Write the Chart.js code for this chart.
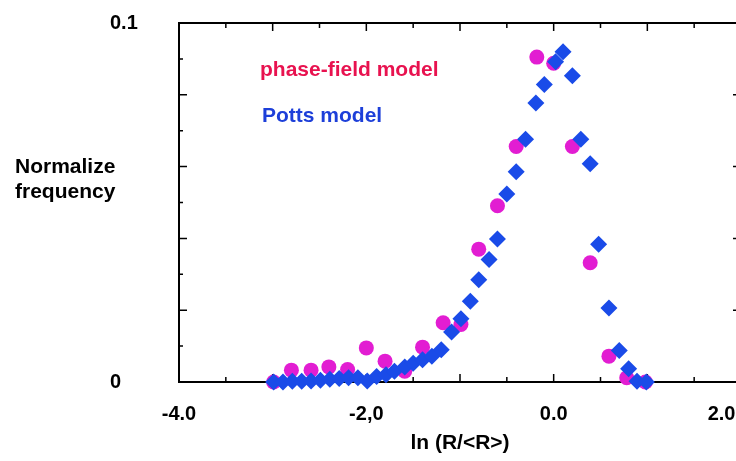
<!DOCTYPE html>
<html>
<head>
<meta charset="utf-8">
<script src="https://cdn.jsdelivr.net/npm/chart.js@4/dist/chart.umd.min.js"></script>
<style>
  html, body { margin: 0; padding: 0; background: #fff; overflow: hidden; width: 736px; height: 461px; }
</style>
</head>
<body>
<!-- the original figure is cut at the right edge, so the canvas runs past the window -->
<canvas id="chart" width="800" height="461"></canvas>
<script>
// values
const phaseX = [-2.99, -2.80, -2.59, -2.40, -2.20, -2.00, -1.80, -1.59, -1.40, -1.18, -0.99,
  -0.80, -0.60, -0.40, -0.18, 0.00, 0.20, 0.39, 0.59, 0.78, 0.98];
const phaseY = [0.0000, 0.0033, 0.0033, 0.0042, 0.0035, 0.0095, 0.0058, 0.0030, 0.0097, 0.0165, 0.0160,
  0.0370, 0.0491, 0.0656, 0.0905, 0.0888, 0.0656, 0.0332, 0.0072, 0.0012, 0.0000];

const pottsX = [-2.99, -2.89, -2.79, -2.69, -2.59, -2.49, -2.39, -2.29, -2.19, -2.09, -1.99,
  -1.89, -1.79, -1.70, -1.59, -1.50, -1.40, -1.30, -1.20, -1.09, -0.99, -0.89, -0.80, -0.69,
  -0.60, -0.50, -0.40, -0.30, -0.19, -0.10, 0.02, 0.10, 0.20, 0.29, 0.39, 0.48, 0.59, 0.70,
  0.80, 0.89, 0.99];
const pottsY = [0.0000, 0.0000, 0.0002, 0.0002, 0.0003, 0.0005, 0.0008, 0.0010, 0.0012, 0.0012, 0.0003,
  0.0015, 0.0020, 0.0030, 0.0042, 0.0052, 0.0062, 0.0072, 0.0090, 0.0139, 0.0176, 0.0225, 0.0285, 0.0341,
  0.0398, 0.0524, 0.0586, 0.0676, 0.0777, 0.0829, 0.0892, 0.0920, 0.0853, 0.0676, 0.0608, 0.0384, 0.0206, 0.0088,
  0.0037, 0.0002, 0.0000];

const seriesNames = ["phase-field model", "Potts model"];
const xTickValues = [-4, -2, 0, 2];
const xTickLabels = ["-4.0", "-2,0", "0.0", "2.0"];
const yTickValues = [0, 0.1];
const yTickLabels = ["0", "0.1"];
const xAxisLabel = "ln (R/<R>)";
const yAxisLabel = ["Normalize", "frequency"];

const FONT = "'Liberation Sans', Arial, Helvetica, sans-serif";
const toPoints = (xs, ys) => xs.map((x, i) => ({ x, y: ys[i] }));

const findLabel = (v, values, labels) => {
  const i = values.findIndex(t => Math.abs(t - v) < 1e-9);
  return i < 0 ? "" : labels[i];
};

// frame on top/right plus inward tick marks on all four sides
const framePlugin = {
  id: "frame",
  beforeDatasetsDraw(chart) {
    const { ctx, chartArea: a, scales: { x, y } } = chart;
    ctx.save();
    ctx.strokeStyle = "#000";
    ctx.lineWidth = 2;
    ctx.beginPath();
    ctx.moveTo(a.left, a.top);
    ctx.lineTo(a.right, a.top);
    ctx.lineTo(a.right, a.bottom);
    ctx.stroke();

    ctx.lineWidth = 1.5;
    ctx.beginPath();
    x.ticks.forEach(t => {
      const px = x.getPixelForValue(t.value);
      const len = Math.abs(t.value - Math.round(t.value)) < 1e-9 ? 8 : 5;
      ctx.moveTo(px, a.bottom); ctx.lineTo(px, a.bottom - len);
      ctx.moveTo(px, a.top); ctx.lineTo(px, a.top + len);
    });
    y.ticks.forEach(t => {
      const py = y.getPixelForValue(t.value);
      const len = Math.round(t.value * 100) % 2 === 0 ? 8 : 4;
      ctx.moveTo(a.left, py); ctx.lineTo(a.left + len, py);
      ctx.moveTo(a.right, py); ctx.lineTo(a.right - len, py);
    });
    ctx.stroke();
    ctx.restore();
  },
  afterDraw(chart) {
    const { ctx } = chart;
    ctx.save();
    ctx.font = "bold 21px " + FONT;
    ctx.textAlign = "left";
    ctx.textBaseline = "middle";
    ctx.fillStyle = "#000";
    ctx.fillText(yAxisLabel[0], 15, 167);
    ctx.fillText(yAxisLabel[1], 15, 192);
    const legendPos = [[260, 70], [262, 116]];
    const legendColors = ["#e8124f", "#1d3fd9"];
    chart.data.datasets.forEach((ds, i) => {
      ctx.fillStyle = legendColors[i];
      ctx.fillText(ds.label, legendPos[i][0], legendPos[i][1]);
    });
    ctx.restore();
  }
};

new Chart(document.getElementById("chart"), {
  type: "scatter",
  data: {
    datasets: [
      {
        label: seriesNames[0],
        data: toPoints(phaseX, phaseY),
        pointStyle: "circle",
        pointRadius: 7.5,
        pointBorderWidth: 0,
        backgroundColor: "#e21dd2",
        borderColor: "#e21dd2",
        clip: false,
        order: 1
      },
      {
        label: seriesNames[1],
        data: toPoints(pottsX, pottsY),
        pointStyle: "rectRot",
        pointRadius: 8.5,
        pointBorderWidth: 0,
        backgroundColor: "#1a4be8",
        borderColor: "#1a4be8",
        clip: false,
        order: 0
      }
    ]
  },
  options: {
    responsive: false,
    animation: false,
    events: [],
    layout: { padding: { left: 110, top: 23, right: 59, bottom: 0 } },
    plugins: { legend: { display: false }, tooltip: { enabled: false } },
    scales: {
      x: {
        type: "linear",
        min: -4,
        max: 2,
        afterFit: s => { s.height = 79; s.paddingLeft = 0; s.paddingRight = 0; },
        grid: { display: false, drawTicks: false },
        border: { display: true, color: "#000", width: 2 },
        ticks: {
          stepSize: 0.5,
          autoSkip: false,
          maxRotation: 0,
          padding: 20,
          color: "#000",
          font: { family: FONT, size: 20, weight: "bold" },
          callback: v => {
            const s = findLabel(v, xTickValues, xTickLabels);
            // the last label sits left of its tick in the original
            return v === 2 ? s + "       " : s;
          }
        },
        title: {
          display: true,
          text: xAxisLabel,
          color: "#000",
          font: { family: FONT, size: 21, weight: "bold" },
          padding: { top: 0, bottom: 5 }
        }
      },
      y: {
        type: "linear",
        min: 0,
        max: 0.1,
        afterFit: s => { s.width = 69; },
        grid: { display: false, drawTicks: false },
        border: { display: true, color: "#000", width: 2 },
        ticks: {
          stepSize: 0.01,
          autoSkip: false,
          crossAlign: "far",
          padding: 0,
          color: "#000",
          font: { family: FONT, size: 20, weight: "bold" },
          callback: v => findLabel(v, yTickValues, yTickLabels)
        }
      }
    }
  },
  plugins: [framePlugin]
});
</script>
</body>
</html>
